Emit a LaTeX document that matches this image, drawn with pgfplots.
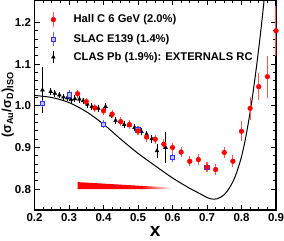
\documentclass[border=0pt]{standalone}
\usepackage{fontspec}
\setmainfont{Liberation Sans}
\usepackage{pgfplots}
\pgfplotsset{compat=1.18}
\begin{document}
\begin{tikzpicture}
\begin{axis}[
  scale only axis, width=241.5pt, height=210pt,
  xmin=0.2, xmax=0.9, ymin=0.75, ymax=1.254,
  xtick={0.2,0.3,0.4,0.5,0.6,0.7,0.8,0.9},
  ytick={0.8,0.9,1.0,1.1,1.2},
  minor x tick num=3, minor y tick num=4,
  tick align=inside, major tick length=5pt, minor tick length=3pt,
  axis line style={line width=1.2pt},
  every tick/.style={black, line width=0.8pt},
  /pgf/number format/assume math mode=true,
  /pgf/number format/.cd, fixed, fixed zerofill, precision=1, /pgfplots/.cd,
  tick label style={font=\bfseries\fontsize{11.5}{13}\selectfont},
  xlabel={x},
  xlabel style={font=\bfseries\fontsize{19}{20}\selectfont, at={(axis description cs:0.5,0)}, anchor=north, inner sep=0pt, yshift=-16pt},
  ylabel={(σ\textsubscript{Au}/σ\textsubscript{D})\textsubscript{ISO}},
  ylabel style={font=\bfseries\fontsize{13}{14}\selectfont, at={(axis description cs:-0.085,0.5)}, anchor=south, inner sep=0pt},
  legend style={at={(0.0186,0.946)}, anchor=north west, draw=none, fill=none, inner sep=0pt,
    font=\bfseries\fontsize{11.2}{13}\selectfont, row sep=4pt, column sep=6pt,
    nodes={inner sep=0pt}},
  legend cell align=left,
  reverse legend,
  error bars/error mark=none,
]
% model curve
\addplot[black, line width=1pt, smooth, forget plot] coordinates {
(0.20,1.025) (0.25,1.020) (0.30,1.008) (0.35,0.986) (0.40,0.956) (0.45,0.920)
(0.50,0.886) (0.55,0.856) (0.60,0.827) (0.65,0.802) (0.68,0.789) (0.70,0.780)
(0.71,0.777) (0.72,0.776) (0.73,0.777) (0.74,0.781) (0.75,0.787) (0.76,0.797)
(0.77,0.810) (0.78,0.827) (0.79,0.850) (0.80,0.878) (0.81,0.915) (0.82,0.960)
(0.83,1.012) (0.84,1.072) (0.85,1.138) (0.86,1.210) (0.87,1.29)};
% red wedge
\addplot[fill=red, draw=none, forget plot] coordinates {(0.325,0.800) (0.325,0.817) (0.51,0.8079) (0.51,0.800)} -- cycle;
\addplot[draw=none, left color=red, right color=white, forget plot] coordinates {(0.509,0.800) (0.509,0.808) (0.60,0.8035) (0.60,0.800)} -- cycle;
% CLAS Pb
\addplot[only marks, mark=triangle*, mark size=2.2pt, black,
  legend image code/.code={\path (0pt,0pt) (28pt,0pt);
    \draw[black, line width=0.8pt] (14pt,-6pt) -- (14pt,6pt);
    \draw[black, mark=triangle*, mark size=2.2pt] plot coordinates {(14pt,0pt)};},
  error bars/.cd, y dir=both, y explicit, error mark=none, error bar style={black, line width=0.8pt}]
  table[x=x, y=y, y error=e] {
x y e
0.223 1.038 0.055
0.247 1.034 0.008
0.259 1.030 0.008
0.272 1.026 0.008
0.284 1.021 0.008
0.295 1.019 0.008
0.306 1.015 0.008
0.317 1.017 0.008
0.330 1.016 0.008
0.341 1.012 0.008
0.353 1.004 0.008
0.366 0.998 0.008
0.385 0.994 0.008
0.406 0.998 0.008
0.422 0.978 0.008
0.435 0.965 0.008
0.448 0.962 0.008
0.460 0.955 0.008
0.475 0.952 0.008
0.490 0.948 0.008
0.510 0.938 0.008
0.525 0.932 0.008
0.540 0.921 0.009
0.555 0.892 0.017
0.580 0.900 0.038
};
\addlegendentry{CLAS Pb (1.9\%): EXTERNALS RC}
% SLAC E139
\addplot[only marks, mark=square*, mark size=2.2pt, blue, mark options={fill=blue!25, draw=blue!80, line width=0.7pt},
  legend image code/.code={\path (0pt,0pt) (28pt,0pt);
    \draw[blue!60, line width=1pt] (14pt,-7pt) -- (14pt,7pt);
    \draw[blue!80, fill=blue!25, line width=0.7pt] (11.8pt,-2.2pt) rectangle (16.2pt,2.2pt);},
  error bars/.cd, y dir=both, y explicit, error mark=none, error bar style={blue!60, line width=1pt}]
  table[x=x, y=y, y error=e] {
x y e
0.223 1.006 0.009
0.301 1.026 0.011
0.400 0.956 0.010
0.500 0.942 0.010
0.600 0.876 0.010
0.700 0.853 0.011
};
\addlegendentry{SLAC E139 (1.4\%)}
% Hall C
\addplot[only marks, mark=*, mark size=2.4pt, red,
  legend image code/.code={\path (0pt,0pt) (28pt,0pt);
    \draw[red!65, line width=1.2pt] (14pt,-7.5pt) -- (14pt,7.5pt);
    \fill[red] (14pt,0pt) circle (2.4pt);},
  error bars/.cd, y dir=both, y explicit, error mark=none, error bar style={red!65, line width=1.2pt}]
  table[x=x, y=y, y error=e] {
x y e
0.325 1.029 0.010
0.350 1.010 0.010
0.375 0.995 0.010
0.400 0.988 0.010
0.425 0.980 0.010
0.450 0.962 0.011
0.475 0.955 0.011
0.500 0.940 0.011
0.525 0.925 0.011
0.550 0.920 0.011
0.575 0.908 0.012
0.600 0.900 0.012
0.625 0.889 0.012
0.650 0.867 0.012
0.675 0.871 0.013
0.700 0.853 0.012
0.725 0.847 0.013
0.750 0.888 0.013
0.775 0.867 0.014
0.800 0.939 0.024
0.825 0.994 0.027
0.850 1.046 0.032
0.875 1.070 0.050
0.900 1.180 0.060
};
\addlegendentry{Hall C 6 GeV (2.0\%)}
\end{axis}
\pgfresetboundingbox
\path[use as bounding box] ([shift={(-34.5pt,-30pt)}]current axis.south west) rectangle ([shift={(8pt,0pt)}]current axis.north east);
\end{tikzpicture}
\end{document}
